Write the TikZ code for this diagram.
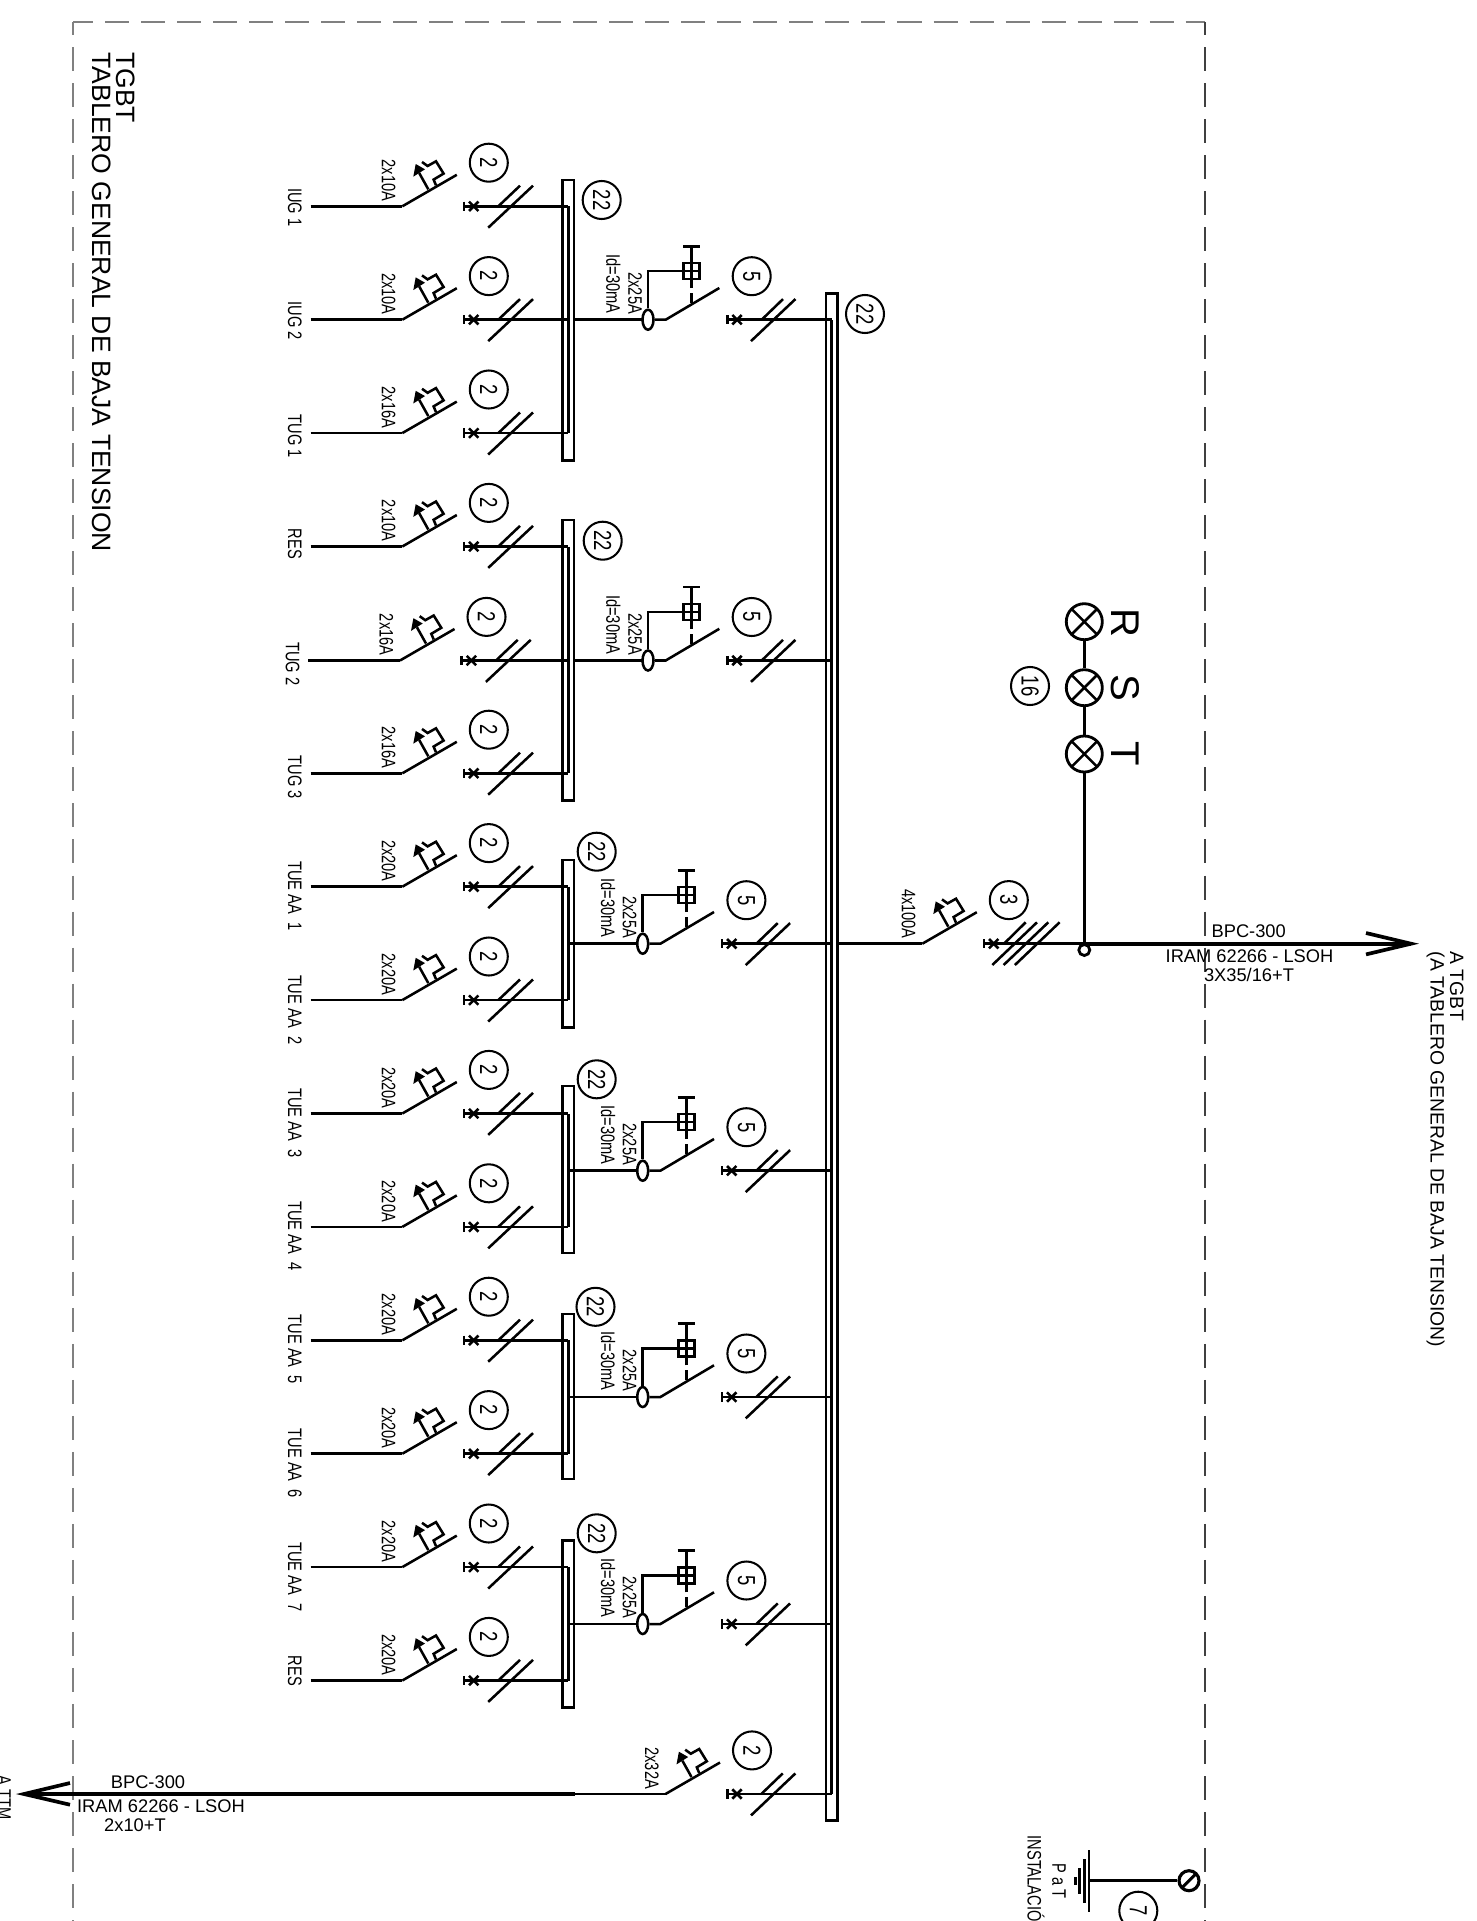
\documentclass[tikz,border=0pt]{standalone}
\usepackage{fontspec}
\setmainfont{Liberation Sans}
\newfontfamily\narrowfont[FakeStretch=0.75]{Liberation Sans}
\usetikzlibrary{shapes.geometric}
\tikzset{
  wire/.style={line width=0.72pt},
  feeder/.style={line width=1.05pt},
  frameline/.style={gray,line width=0.5pt,dash pattern=on 0.24cm off 0.12cm},
  rating/.style={rotate=-90,inner sep=0,font=\narrowfont\fontsize{5.55}{6}\selectfont},
  numcirc/.style={circle,draw,line width=0.58pt,minimum size=0.38cm,inner sep=0,rotate=-90,
    font=\narrowfont\fontsize{7}{8}\selectfont},
  cable/.style={inner sep=0,font=\fontsize{5.2}{6}\selectfont},
  lamp/.style={circle,draw,line width=0.8pt,minimum size=0.36cm,inner sep=0,
    path picture={\draw[wire] (path picture bounding box.north west) -- (path picture bounding box.south east)
      (path picture bounding box.north east) -- (path picture bounding box.south west);}}
}
% breaker: name, position, rating, number
\newcommand{\cbreaker}[4]{
  \begin{scope}[shift={#2}]
    \coordinate (#1-a) at (0,0);
    \coordinate (#1-b) at (54.5,-31.5);
    \draw[wire] (#1-a) -- (#1-b);
    \draw[wire] (26,-17) -- (16.9,-33.3);
    \fill (13.4,-42.3) -- (11,-29.6) -- (22.7,-37) -- cycle;
    \draw[wire] (19.7,-44.3) -- (25.3,-40.3) -- (33.7,-45) -- (41.3,-32.7) -- (31.3,-26.7) -- (33.7,-21);
    \node[rating,anchor=east] (#1-r) at (-13.7,-4.3) {#3};
    \node[numcirc] (#1-n) at (86.5,-43.6) {#4};
  \end{scope}
}
% contact mark with line to its bus: name, position, end x
\newcommand{\contact}[3]{
  \begin{scope}[shift={#2}]
    \coordinate (#1-c) at (0,0);
    \coordinate (#1-e) at (#3,0);
    \draw[wire] (0,-4.7) -- (0,4.7);
    \draw[wire] (5,-4.7) -- (14.4,4.7) (5,4.7) -- (14.4,-4.7);
    \draw[wire] (#1-c) -- (#1-e);
  \end{scope}
}
% rcd: name, position
\newcommand{\rcd}[2]{
  \begin{scope}[shift={#2}]
    \node[ellipse,draw,fill=white,wire,minimum width=0.11cm,minimum height=0.2cm,inner sep=0] (#1-o) at (0,0) {};
    \coordinate (#1-a) at (17.7,0);
    \coordinate (#1-b) at (71.3,-31.7);
    \draw[wire] (#1-o) -- (#1-a) -- (#1-b);
    \node[draw,wire,minimum size=0.16cm,inner sep=0] (#1-t) at (43.7,-48.7) {};
    \draw[wire] (#1-o.north) |- (#1-t.east);
    \draw[wire] (43.7,-16.7) -- (43.7,-26.7) (43.7,-31.7) -- (43.7,-73.3);
    \draw[wire] (35,-73.3) -- (52.4,-73.3);
    \node[rating,anchor=east] (#1-r) at (-13,-5) {2x25A};
    \node[rating,anchor=east] (#1-d) at (-34.7,-5.7) {Id=30mA};
    \node[numcirc] (#1-n) at (103.7,-43.5) {5};
  \end{scope}
}
\begin{document}
\begin{tikzpicture}[x=0.01cm,y=-0.01cm]
  \useasboundingbox (0,0) rectangle (1477,1921);
  \clip (0,0) rectangle (1477,1921);

  % frame
  \draw[frameline,dash phase=0.043cm] (73.3,22.3) -- (1205,22.3);
  \draw[frameline,dash phase=0.113cm] (73.3,22.3) -- (73.3,1960);
  \draw[frameline,black!75,line width=0.45pt,dash phase=0.113cm] (1205,22.3) -- (1205,1960);
  \node[rotate=-90,anchor=base west,inner sep=0,font=\fontsize{7.55}{8}\selectfont] (title1) at (116,51.7) {TGBT};
  \node[rotate=-90,anchor=base west,inner sep=0,font=\fontsize{7.55}{8}\selectfont] (title2) at (92.5,51.7) {TABLERO GENERAL DE BAJA TENSION};

  % main bus
  \draw[wire] (826,293.3) rectangle (837.3,1820.7);
  \draw[wire] (831.5,320) -- (831.5,1794);
  \node[numcirc] (busn) at (865,314) {22};

  % distribution bars
  \foreach \g/\top/\bot/\rfirst/\rlast/\cx/\cy in {
    1/180/460.5/206.3/433.1/601.7/200,
    2/520/800.7/546.5/773.3/602.7/540.7,
    3/860/1027.3/886.7/1000.1/596.7/851.7,
    4/1086/1253/1113.5/1226.9/596.7/1079.3,
    5/1314/1479/1340.3/1453.7/595.5/1306.8,
    6/1540.7/1707.7/1567.1/1680.5/596.7/1533.3}{
    \draw[wire] (562.7,\top) rectangle (574,\bot);
    \draw[wire] (568.3,\rfirst) -- (568.3,\rlast);
    \node[numcirc] (barn\g) at (\cx,\cy) {22};
  }

  % final circuits
  \foreach \n/\xr/\yr/\lab/\top/\amp in {
    1/402.3/206.3/IUG 1/187.3/2x10A,
    2/402.3/319.7/IUG 2/300.7/2x10A,
    3/402.3/433.1/TUG 1/414/2x16A,
    4/402.3/546.5/RES/528/2x10A,
    5/400/660.5/TUG 2/641.7/2x16A,
    6/402.3/773.3/TUG 3/755/2x16A,
    7/402.3/886.7/TUE AA\ \ 1/860.7/2x20A,
    8/402.3/1000.1/TUE AA\ \ 2/974.3/2x20A,
    9/402.3/1113.5/TUE AA\ \ 3/1087.5/2x20A,
    10/402.3/1226.9/TUE AA\ \ 4/1200.5/2x20A,
    11/402.3/1340.3/TUE AA\ \ 5/1314/2x20A,
    12/402.3/1453.7/TUE AA\ \ 6/1428/2x20A,
    13/402.3/1567.1/TUE AA\ \ 7/1541.7/2x20A,
    14/402.3/1680.5/RES/1655/2x20A}{
    \cbreaker{b\n}{(\xr,\yr)}{\amp}{2}
    \coordinate (s\n) at (\xr-91.6,\yr);
    \draw[wire] (s\n) -- (b\n-a);
    \contact{k\n}{(\xr+61.7,\yr)}{568.3-\xr-61.7}
    \draw[wire] (\xr+85.9,\yr+21.4) -- (\xr+130.7,\yr-20.6);
    \draw[wire] (\xr+96,\yr) -- (\xr+117.7,\yr-20.6);
    \node[rating,anchor=west] (lab\n) at (\xr-107.5,\top) {\lab};
  }

  % differential switches
  \foreach \r/\xr/\yr/\xs in {
    1/648/319.7/574.5, 2/648/660.5/574.5, 3/642.7/943.7/568.3,
    4/642.7/1170.7/568.3, 5/642.7/1397/568.3, 6/642.7/1624/568.3}{
    \coordinate (f\r) at (\xs,\yr);
    \draw[wire] (f\r) -- (\xr,\yr);
    \rcd{d\r}{(\xr,\yr)}
    \contact{m\r}{(\xr+79.3,\yr)}{831.5-\xr-79.3}
    \draw[wire] (\xr+103,\yr+21.4) -- (\xr+147.4,\yr-20.6);
    \draw[wire] (\xr+113.7,\yr) -- (\xr+135,\yr-20.6);
  }

  % main switch and outgoing cable
  \coordinate (busout) at (837.3,943.7);
  \cbreaker{q}{(922.3,943.7)}{4x100A}{3}
  \draw[wire] (busout) -- (q-a);
  \contact{kq}{(984,943.7)}{100.3}
  \draw[wire] (1004,943.7) -- (1025.7,922.3);
  \foreach \i in {0,1,2}
    \draw[wire] (992.3+11.3*\i,965) -- (1037+11.3*\i,922.3);
  \coordinate (tap) at (1084.3,943.7);
  \coordinate (tip) at (1411,943.7);
  \coordinate (barbu) at (1366,933);
  \coordinate (barbd) at (1366,954.4);
  \draw[feeder] (tap) -- (tip);
  \draw[feeder] (barbu) -- (tip) -- (barbd);
  \node[cable] (cabA) at (1248.7,930.7) {BPC-300};
  \node[cable] (cabB) at (1249.5,955.7) {IRAM 62266 - LSOH};
  \node[cable] (cabC) at (1249,975) {3X35/16+T};
  \node[rotate=-90,anchor=base west,inner sep=0,font=\fontsize{5.5}{6}\selectfont] (dest1) at (1450,951) {A TGBT};
  \node[rotate=-90,anchor=base west,inner sep=0,font=\fontsize{5.5}{6}\selectfont] (dest2) at (1430.5,951) {(A TABLERO GENERAL DE BAJA TENSION)};

  % phase lamps
  \node[lamp] (lampR) at (1084.3,621.7) {};
  \node[lamp] (lampS) at (1084.3,687.7) {};
  \node[lamp] (lampT) at (1084.3,754) {};
  \draw[wire] (lampR) -- (lampS) -- (lampT) -- (tap);
  \node[circle,draw,fill=white,line width=0.8pt,minimum size=0.11cm,inner sep=0] (tapc) at (1084.3,950) {};
  \foreach \l/\ly in {R/622.7,S/687.7,T/754}
    \node[rotate=-90,inner sep=0,font=\fontsize{11.4}{12}\selectfont] (txt\l) at (1125,\ly) {\l};
  \node[numcirc] (lampn) at (1030,686) {16};

  % circuit to TTM
  \cbreaker{p}{(665.5,1794)}{2x32A}{2}
  \coordinate (ttmj) at (575,1794);
  \coordinate (ttmtip) at (24,1794);
  \draw[wire] (ttmj) -- (p-a);
  \contact{kp}{(727.3,1794)}{104.2}
  \draw[wire] (751,1815.4) -- (795.4,1773.4);
  \draw[wire] (761.3,1794) -- (782.7,1773.4);
  \draw[feeder] (ttmj) -- (ttmtip);
  \draw[feeder] (70,1783) -- (ttmtip) -- (70,1804.7);
  \node[cable] (ttmA) at (148,1781.7) {BPC-300};
  \node[cable] (ttmB) at (161,1806) {IRAM 62266 - LSOH};
  \node[cable] (ttmC) at (135,1825) {2x10+T};
  \node[rating,anchor=west] (ttmD) at (4,1775) {A TTM};

  % earth
  \node[circle,draw,line width=0.9pt,minimum size=0.2cm,inner sep=0,
    path picture={\draw[line width=0.9pt] (path picture bounding box.south west) -- (path picture bounding box.north east);}] (term) at (1189,1880.7) {};
  \coordinate (earth) at (1089,1880.7);
  \draw[wire] (term) -- (earth);
  \draw[wire] (1089,1850) -- (1089,1911.7);
  \draw[wire] (1084.3,1859.3) -- (1084.3,1902.7);
  \draw[wire] (1079.7,1868) -- (1079.7,1894);
  \draw[line width=0.9pt] (1075.3,1877) -- (1075.3,1885);
  \node[numcirc] (earthn) at (1138.3,1910.7) {7};
  \node[rating] (earthA) at (1059,1881) {P a T};
  \node[rating,anchor=west] (earthB) at (1036,1835) {INSTALACIÓN};
\end{tikzpicture}
\end{document}
